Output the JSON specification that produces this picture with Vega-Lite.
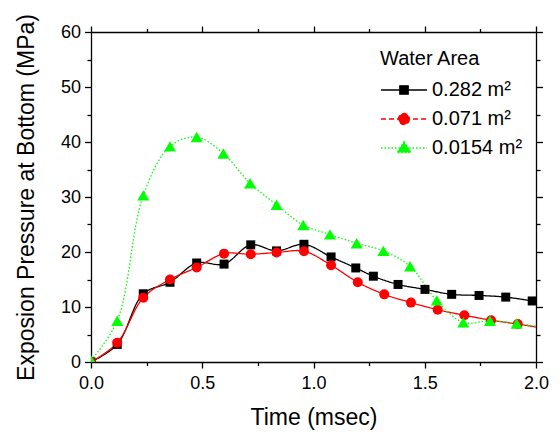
{
  "$schema": "https://vega.github.io/schema/vega-lite/v6.json",
  "width": 445,
  "height": 330,
  "autosize": "none",
  "padding": {"left": 91, "top": 32, "right": 24, "bottom": 72},
  "background": "white",
  "config": {
    "view": {"stroke": null},
    "font": "Liberation Sans",
    "axis": {
      "domainColor": "black", "domainWidth": 1.3, "tickColor": "black", "tickWidth": 1.3,
      "labelColor": "black", "titleColor": "black", "labelFontSize": 18, "titleFontSize": 23,
      "titleFontWeight": "normal", "grid": false, "labelFont": "Liberation Sans", "titleFont": "Liberation Sans"
    },
    "legend": {"labelFont": "Liberation Sans", "titleFont": "Liberation Sans",
      "titleFontSize": 20, "titleFontWeight": "normal", "titleColor": "black",
      "labelFontSize": 20, "labelColor": "black", "symbolSize": 400,
      "labelOffset": 30, "rowPadding": 8, "titlePadding": 10, "padding": 0}
  },
  "data": {
    "values": [
      {"s": "0.282 m²", "t": 0, "p": 0},
      {"s": "0.282 m²", "t": 0.118, "p": 3.2},
      {"s": "0.282 m²", "t": 0.235, "p": 12.4},
      {"s": "0.282 m²", "t": 0.355, "p": 14.5},
      {"s": "0.282 m²", "t": 0.475, "p": 18.0},
      {"s": "0.282 m²", "t": 0.598, "p": 17.8},
      {"s": "0.282 m²", "t": 0.718, "p": 21.3},
      {"s": "0.282 m²", "t": 0.834, "p": 20.2},
      {"s": "0.282 m²", "t": 0.957, "p": 21.4},
      {"s": "0.282 m²", "t": 1.079, "p": 19.1},
      {"s": "0.282 m²", "t": 1.19, "p": 17.1},
      {"s": "0.282 m²", "t": 1.269, "p": 15.6},
      {"s": "0.282 m²", "t": 1.38, "p": 14.1},
      {"s": "0.282 m²", "t": 1.501, "p": 13.2},
      {"s": "0.282 m²", "t": 1.621, "p": 12.3},
      {"s": "0.282 m²", "t": 1.744, "p": 12.1},
      {"s": "0.282 m²", "t": 1.864, "p": 11.8},
      {"s": "0.282 m²", "t": 1.983, "p": 11.1},
      {"s": "0.071 m²", "t": 0, "p": 0},
      {"s": "0.071 m²", "t": 0.118, "p": 3.5},
      {"s": "0.071 m²", "t": 0.235, "p": 11.7},
      {"s": "0.071 m²", "t": 0.355, "p": 15.0},
      {"s": "0.071 m²", "t": 0.475, "p": 17.2},
      {"s": "0.071 m²", "t": 0.598, "p": 19.7},
      {"s": "0.071 m²", "t": 0.718, "p": 19.6},
      {"s": "0.071 m²", "t": 0.834, "p": 19.9},
      {"s": "0.071 m²", "t": 0.957, "p": 20.15},
      {"s": "0.071 m²", "t": 1.079, "p": 17.6},
      {"s": "0.071 m²", "t": 1.199, "p": 14.5},
      {"s": "0.071 m²", "t": 1.318, "p": 12.3},
      {"s": "0.071 m²", "t": 1.438, "p": 10.8},
      {"s": "0.071 m²", "t": 1.558, "p": 9.5},
      {"s": "0.071 m²", "t": 1.678, "p": 8.5},
      {"s": "0.071 m²", "t": 1.798, "p": 7.6},
      {"s": "0.071 m²", "t": 1.918, "p": 6.9},
      {"s": "0.071 m²", "t": 2.038, "p": 6.1},
      {"s": "0.0154 m²", "t": 0, "p": 0.3},
      {"s": "0.0154 m²", "t": 0.118, "p": 7.5},
      {"s": "0.0154 m²", "t": 0.235, "p": 30.3},
      {"s": "0.0154 m²", "t": 0.355, "p": 39.2},
      {"s": "0.0154 m²", "t": 0.475, "p": 40.9},
      {"s": "0.0154 m²", "t": 0.595, "p": 37.9},
      {"s": "0.0154 m²", "t": 0.715, "p": 32.5},
      {"s": "0.0154 m²", "t": 0.834, "p": 28.6},
      {"s": "0.0154 m²", "t": 0.954, "p": 24.9},
      {"s": "0.0154 m²", "t": 1.074, "p": 23.2},
      {"s": "0.0154 m²", "t": 1.194, "p": 21.6},
      {"s": "0.0154 m²", "t": 1.314, "p": 20.2},
      {"s": "0.0154 m²", "t": 1.434, "p": 17.4},
      {"s": "0.0154 m²", "t": 1.554, "p": 11.2},
      {"s": "0.0154 m²", "t": 1.673, "p": 7.2},
      {"s": "0.0154 m²", "t": 1.793, "p": 7.5},
      {"s": "0.0154 m²", "t": 1.913, "p": 7.0},
      {"s": "0.0154 m²", "t": 2.033, "p": 6.3}
    ]
  },
  "layer": [
    {
      "mark": {"type": "line", "interpolate": "catmull-rom", "strokeWidth": 1.3, "clip": true},
      "encoding": {
        "x": {"field": "t", "type": "quantitative", "scale": {"domain": [0, 2], "nice": false},
          "axis": {"orient": "bottom", "title": "Time (msec)", "values": [0, 0.25, 0.5, 0.75, 1, 1.25, 1.5, 1.75, 2],
            "labelExpr": "round(datum.value*4) % 2 === 0 ? format(datum.value, '.1f') : ''",
            "tickSize": {"condition": {"test": "round(datum.value*4) % 2 === 0", "value": 6}, "value": 3.5},
            "labelPadding": 6, "titlePadding": 14, "labelFlush": false, "labelOverlap": false}},
        "y": {"field": "p", "type": "quantitative", "scale": {"domain": [0, 60], "nice": false},
          "axis": {"orient": "left", "title": "Exposion Pressure at Bottom (MPa)", "values": [0, 5, 10, 15, 20, 25, 30, 35, 40, 45, 50, 55, 60],
            "labelExpr": "datum.value % 10 === 0 ? datum.label : ''",
            "tickSize": {"condition": {"test": "datum.value % 10 === 0", "value": 6.5}, "value": 4},
            "labelPadding": 4, "titlePadding": 22, "labelFlush": false, "labelOverlap": false}},
        "color": {"field": "s", "type": "nominal", "scale": {"domain": ["0.282 m²", "0.071 m²", "0.0154 m²"], "range": ["#000000", "#ff0000", "#00ff00"]},
          "legend": {
            "title": "Water Area", "orient": "none", "legendX": 289, "legendY": 17,
            "encode": {
              "symbols": {"update": {
                "shape": {"signal": "datum.value === '0.282 m²' ? 'M-1,0H3.6M0.88,-0.42H1.72V0.42H0.88Z' : datum.value === '0.071 m²' ? 'M-1,0H3.6M1.85,0A0.55,0.55 0 1,1 0.75,0A0.55,0.55 0 1,1 1.85,0Z' : 'M-1,0H3.6M1.3,-0.62L2,0.45H0.6Z'"},
                "size": {"value": 400},
                "stroke": {"signal": "datum.value === '0.282 m²' ? '#000000' : datum.value === '0.071 m²' ? '#ff0000' : '#00ff00'"},
                "fill": {"signal": "datum.value === '0.282 m²' ? '#000000' : datum.value === '0.071 m²' ? '#ff0000' : '#00ff00'"},
                "strokeDash": {"signal": "datum.value === '0.071 m²' ? [5, 3] : datum.value === '0.0154 m²' ? [1.5, 2] : [1, 0]"},
                "strokeWidth": {"value": 1.3},
                "opacity": {"value": 1},
                "fillOpacity": {"value": 1}
              }}
            }
          }},
        "strokeDash": {"condition": {"test": "datum.s === '0.0154 m²'", "value": [1.5, 2]}, "value": [1, 0]}
      }
    },
    {
      "mark": {"type": "point", "filled": true, "opacity": 1, "clip": true},
      "encoding": {
        "x": {"field": "t", "type": "quantitative", "axis": null},
        "y": {"field": "p", "type": "quantitative", "axis": null},
        "color": {"field": "s", "type": "nominal",
          "legend": {
            "title": "Water Area", "orient": "none", "legendX": 289, "legendY": 17,
            "encode": {
              "symbols": {"update": {
                "shape": {"signal": "datum.value === '0.282 m²' ? 'M-1,0H3.6M0.88,-0.42H1.72V0.42H0.88Z' : datum.value === '0.071 m²' ? 'M-1,0H3.6M1.85,0A0.55,0.55 0 1,1 0.75,0A0.55,0.55 0 1,1 1.85,0Z' : 'M-1,0H3.6M1.3,-0.62L2,0.45H0.6Z'"},
                "size": {"value": 400},
                "stroke": {"signal": "datum.value === '0.282 m²' ? '#000000' : datum.value === '0.071 m²' ? '#ff0000' : '#00ff00'"},
                "fill": {"signal": "datum.value === '0.282 m²' ? '#000000' : datum.value === '0.071 m²' ? '#ff0000' : '#00ff00'"},
                "strokeDash": {"signal": "datum.value === '0.071 m²' ? [5, 3] : datum.value === '0.0154 m²' ? [1.5, 2] : [1, 0]"},
                "strokeWidth": {"value": 1.3},
                "opacity": {"value": 1},
                "fillOpacity": {"value": 1}
              }}
            }
          }},
        "shape": {"condition": [{"test": "datum.s === '0.282 m²'", "value": "square"}, {"test": "datum.s === '0.071 m²'", "value": "circle"}], "value": "triangle-up"},
        "size": {"condition": [{"test": "datum.s === '0.282 m²'", "value": 81}, {"test": "datum.s === '0.071 m²'", "value": 100}], "value": 144}
      }
    },
    {
      "mark": {"type": "point", "opacity": 0},
      "encoding": {
        "x": {"field": "t", "type": "quantitative",
          "axis": {"orient": "top", "title": null, "labels": false, "values": [0, 0.25, 0.5, 0.75, 1, 1.25, 1.5, 1.75, 2],
            "tickSize": {"condition": {"test": "round(datum.value*4) % 2 === 0", "value": 6}, "value": 3.5}}},
        "y": {"field": "p", "type": "quantitative",
          "axis": {"orient": "right", "title": null, "labels": false, "values": [0, 5, 10, 15, 20, 25, 30, 35, 40, 45, 50, 55, 60],
            "tickSize": {"condition": {"test": "datum.value % 10 === 0", "value": 6.5}, "value": 4}}}
      }
    }
  ],
  "resolve": {"axis": {"x": "independent", "y": "independent"}}
}
